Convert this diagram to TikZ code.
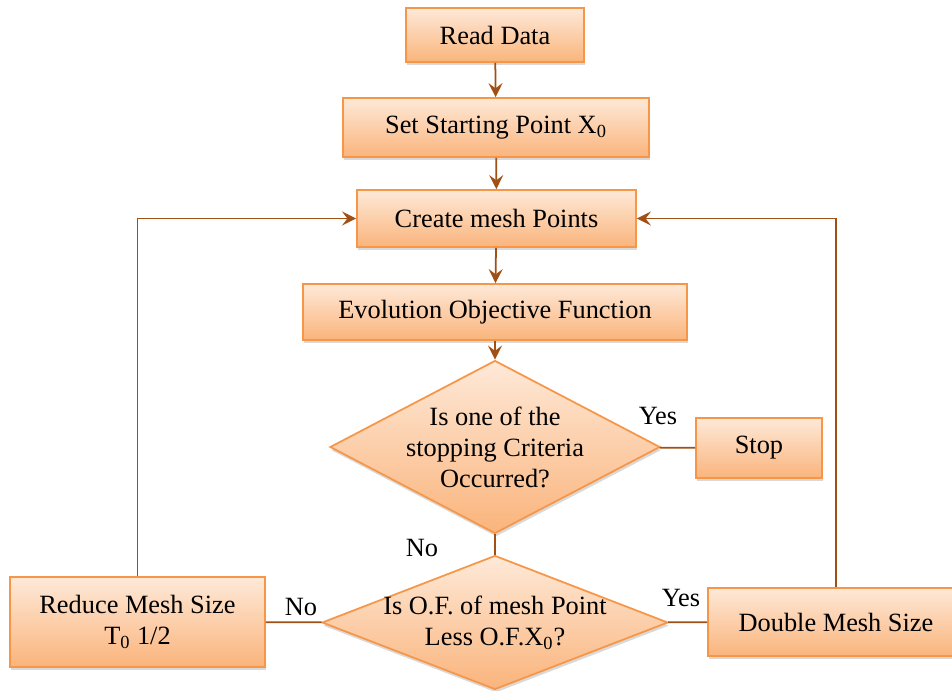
\documentclass[tikz,border=0pt]{standalone}
\usepackage{fontspec}
\setmainfont{Liberation Serif}
\usetikzlibrary{shapes.geometric,arrows.meta,shadows}

\definecolor{boxedge}{RGB}{247,150,70}
\definecolor{boxtop}{RGB}{254,233,216}
\definecolor{boxbot}{RGB}{250,180,124}
\definecolor{flowline}{RGB}{160,80,20}

\tikzset{
  stepbox/.style={draw=boxedge,line width=1pt,top color=boxtop,bottom color=boxbot,
    drop shadow={shadow xshift=0.6pt,shadow yshift=-1.8pt,opacity=0.3},
    align=center,inner sep=2pt},
  decide/.style={stepbox,shape=diamond,inner sep=-0.2cm},
  flow/.style={draw=flowline,line width=1pt},
  arr/.style={flow,-{Stealth[length=8pt,width=8pt,inset=3pt]}},
  lbl/.style={inner sep=0pt}
}

\begin{document}
\begin{tikzpicture}[font=\fontsize{15}{17.6}\selectfont]
\useasboundingbox (0,0) rectangle (19.04,-13.82);

% boxes
\node[stepbox,minimum width=3.56cm,minimum height=1.08cm] (read) at (9.9,-0.7) {Read Data};
\node[stepbox,minimum width=6.12cm,minimum height=1.18cm] (start) at (9.92,-2.55) {Set Starting Point X\textsubscript{0}};
\node[stepbox,minimum width=5.58cm,minimum height=1.14cm] (mesh) at (9.93,-4.37) {Create mesh Points};
\node[stepbox,minimum width=7.68cm,minimum height=1.12cm] (evol) at (9.9,-6.24) {Evolution Objective Function};
\node[decide,aspect=1.9,minimum width=6.6cm,minimum height=3.46cm] (crit) at (9.9,-8.94) {Is one of the\\stopping Criteria\\Occurred?};
\node[stepbox,minimum width=2.52cm,minimum height=1.2cm] (stop) at (15.18,-8.96) {Stop};
\node[decide,aspect=2.58,minimum width=6.92cm,minimum height=2.68cm] (less) at (9.9,-12.45) {Is O.F. of mesh Point\\Less O.F.X\textsubscript{0}?};
\node[stepbox,minimum width=5.1cm,minimum height=1.8cm] (reduce) at (2.75,-12.44) {Reduce Mesh Size\\T\textsubscript{0} 1/2};
\node[stepbox,minimum width=5.12cm,minimum height=1.36cm] (double) at (16.72,-12.44) {Double Mesh Size};

% labels
\node[lbl] (yes1) at (13.16,-8.32) {Yes};
\node[lbl] (no1) at (8.44,-10.96) {No};
\node[lbl] (no2) at (6.02,-12.14) {No};
\node[lbl] (yes2) at (13.62,-11.96) {Yes};

% connectors
\draw[arr] (read) -- (start);
\draw[arr] (start) -- (mesh);
\draw[arr] (mesh) -- (evol);
\draw[arr] (evol) -- (crit);
\draw[flow] (crit) -- (stop);
\draw[flow] (crit) -- (less);
\draw[flow] (less) -- (reduce);
\draw[flow] (less) -- (double);
\draw[arr] (reduce.north) |- (mesh.west);
\draw[arr] (double.north) |- (mesh.east);
\end{tikzpicture}
\end{document}
